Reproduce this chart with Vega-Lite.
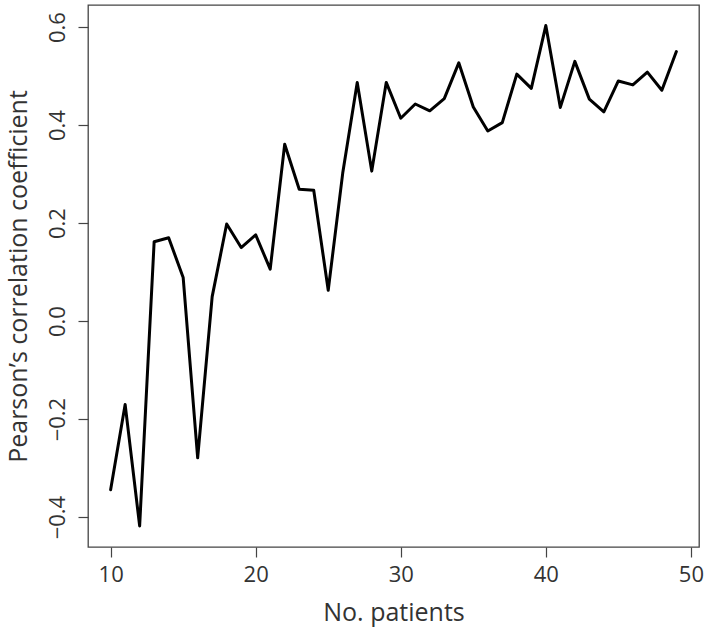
{
  "$schema": "https://vega.github.io/schema/vega-lite/v6.json",
  "autosize": "none",
  "width": 611,
  "height": 542,
  "padding": {"left": 88, "top": 5, "right": 10, "bottom": 87},
  "background": "white",
  "config": {
    "view": {"stroke": "#444", "strokeWidth": 1.3},
    "font": "Open Sans",
    "axis": {
      "grid": false,
      "domain": false,
      "tickColor": "#444",
      "tickSize": 10,
      "tickWidth": 1.2,
      "labelFont": "Open Sans",
      "labelFontSize": 22,
      "labelColor": "#333",
      "titleFont": "Open Sans",
      "titleFontSize": 25,
      "titleFontWeight": "normal",
      "titleColor": "#333"
    }
  },
  "data": {
    "values": [
      {"n": 10, "r": -0.344}, {"n": 11, "r": -0.170}, {"n": 12, "r": -0.418},
      {"n": 13, "r": 0.162}, {"n": 14, "r": 0.170}, {"n": 15, "r": 0.089},
      {"n": 16, "r": -0.279}, {"n": 17, "r": 0.050}, {"n": 18, "r": 0.198},
      {"n": 19, "r": 0.150}, {"n": 20, "r": 0.176}, {"n": 21, "r": 0.106},
      {"n": 22, "r": 0.361}, {"n": 23, "r": 0.269}, {"n": 24, "r": 0.267},
      {"n": 25, "r": 0.063}, {"n": 26, "r": 0.302}, {"n": 27, "r": 0.487},
      {"n": 28, "r": 0.306}, {"n": 29, "r": 0.487}, {"n": 30, "r": 0.414},
      {"n": 31, "r": 0.443}, {"n": 32, "r": 0.429}, {"n": 33, "r": 0.454},
      {"n": 34, "r": 0.527}, {"n": 35, "r": 0.437}, {"n": 36, "r": 0.388},
      {"n": 37, "r": 0.405}, {"n": 38, "r": 0.504}, {"n": 39, "r": 0.475},
      {"n": 40, "r": 0.603}, {"n": 41, "r": 0.436}, {"n": 42, "r": 0.530},
      {"n": 43, "r": 0.453}, {"n": 44, "r": 0.427}, {"n": 45, "r": 0.490},
      {"n": 46, "r": 0.482}, {"n": 47, "r": 0.508}, {"n": 48, "r": 0.471},
      {"n": 49, "r": 0.550}
    ]
  },
  "mark": {"type": "line", "color": "black", "strokeWidth": 3, "strokeJoin": "round", "strokeCap": "round"},
  "encoding": {
    "x": {
      "field": "n",
      "type": "quantitative",
      "scale": {"domain": [8.44, 50.56], "nice": false, "zero": false},
      "axis": {
        "title": "No. patients",
        "values": [10, 20, 30, 40, 50],
        "labelPadding": 7,
        "titlePadding": 15,
        "labelFlush": false
      }
    },
    "y": {
      "field": "r",
      "type": "quantitative",
      "scale": {"domain": [-0.461, 0.645], "nice": false, "zero": false},
      "axis": {
        "title": "Pearson\u2019s correlation coefficient",
        "values": [-0.4, -0.2, 0, 0.2, 0.4, 0.6],
        "format": ".1f",
        "labelAngle": -90,
        "labelAlign": "center",
        "labelBaseline": "bottom",
        "labelPadding": 9,
        "labelFlush": false,
        "titlePadding": 15
      }
    }
  }
}
